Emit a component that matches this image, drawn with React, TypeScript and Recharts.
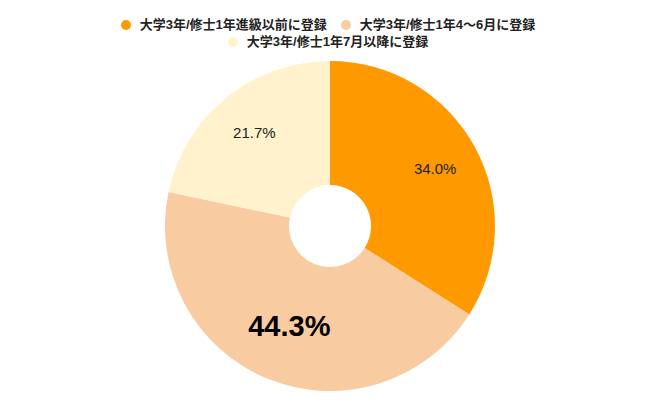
import React from 'react';
import { PieChart, Pie, Cell } from 'recharts';

const categories = [
  '大学3年/修士1年進級以前に登録',
  '大学3年/修士1年4〜6月に登録',
  '大学3年/修士1年7月以降に登録',
];
const shares = [34.0, 44.3, 21.7];
const colors = ['#FF9900', '#F8CBA0', '#FFF2CC'];

const data = categories.map((name, i) => ({ name, value: shares[i] }));

const FONT = "'Liberation Sans', Arial, 'Noto Sans CJK JP', sans-serif";
const RAD = Math.PI / 180;

const renderLabel = (props: any) => {
  const { cx, cy, midAngle, index, value } = props;
  const big = index === 1;
  const r = big ? 108 : 120;
  const x = cx + r * Math.cos(-midAngle * RAD);
  const y = cy + r * Math.sin(-midAngle * RAD);
  return (
    <text
      x={x}
      y={y}
      textAnchor="middle"
      dominantBaseline="central"
      fill={big ? '#000' : '#222'}
      fontFamily={FONT}
      fontSize={big ? 29 : 15}
      fontWeight={big ? 'bold' : 'normal'}
    >
      {value.toFixed(1)}%
    </text>
  );
};

// legend drawn as plain html so it does not push the pie down
const LegendBox = () => (
  <div
    style={{
      position: 'absolute',
      top: 16,
      left: 103,
      width: 450,
      display: 'flex',
      flexWrap: 'wrap',
      justifyContent: 'center',
      fontFamily: FONT,
      fontSize: 13,
      fontWeight: 'bold',
      color: '#222',
      lineHeight: '17px',
    }}
  >
    {categories.map((c, i) => (
      <div key={c} style={{ display: 'flex', alignItems: 'center', margin: '0 7px' }}>
        <span
          style={{
            display: 'inline-block',
            width: 10,
            height: 10,
            borderRadius: 5,
            background: colors[i],
            marginRight: 9,
          }}
        />
        <span>{c}</span>
      </div>
    ))}
  </div>
);

export default function App() {
  return (
    <div style={{ position: 'absolute', left: 0, top: 0, width: 660, height: 408, background: '#fff' }}>
      <PieChart width={660} height={408} margin={{ top: 0, right: 0, bottom: 0, left: 0 }}>
        <Pie
          data={data}
          dataKey="value"
          nameKey="name"
          cx={330}
          cy={226}
          innerRadius={41}
          outerRadius={165}
          startAngle={90}
          endAngle={-270}
          stroke="none"
          label={renderLabel}
          labelLine={false}
          isAnimationActive={false}
        >
          {data.map((d, i) => (
            <Cell key={d.name} fill={colors[i]} />
          ))}
        </Pie>
      </PieChart>
      <LegendBox />
    </div>
  );
}
